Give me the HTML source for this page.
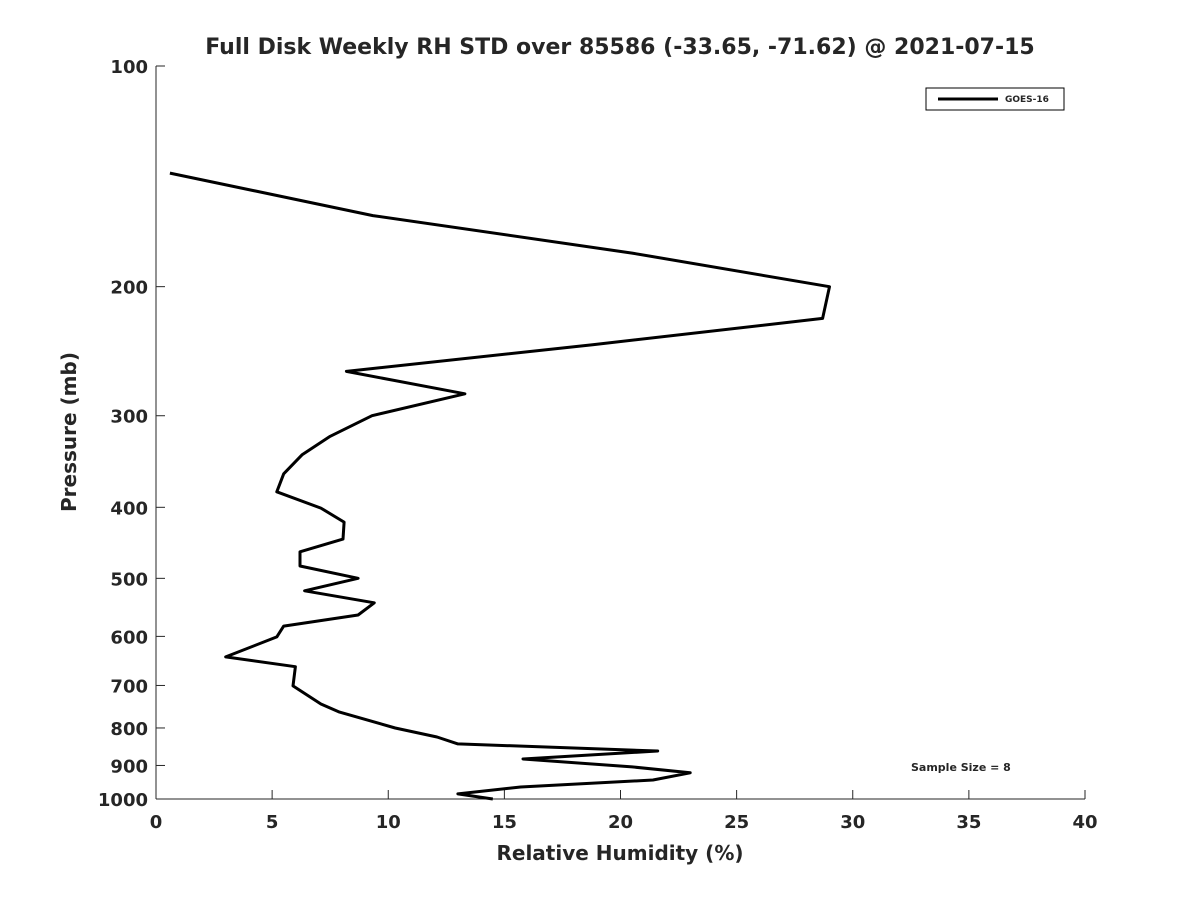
<!DOCTYPE html>
<html><head><meta charset="utf-8"><style>
body{margin:0;background:#fff;}
text{font-family:"DejaVu Sans","Liberation Sans",sans-serif;font-weight:bold;fill:#262626;}
</style></head><body>
<svg id="chart" width="1200" height="900" xmlns="http://www.w3.org/2000/svg">
<rect width="1200" height="900" fill="#fff"/>
<text x="620" y="54" font-size="22" text-anchor="middle" fill="#000">Full Disk Weekly RH STD over 85586 (-33.65, -71.62) @ 2021-07-15</text>
<g id="axes"></g>
<path id="line" fill="none" stroke="#000" stroke-width="3" stroke-linejoin="round"/>
<g>
<rect x="926" y="88" width="138" height="22" fill="#fff" stroke="#000" stroke-width="1"/>
<line x1="938" y1="99" x2="998" y2="99" stroke="#000" stroke-width="3"/>
<text x="1005" y="102" font-size="9" fill="#000">GOES-16</text>
</g>
<text x="911" y="771" font-size="11" fill="#000">Sample Size = 8</text>
<text x="620" y="860" font-size="20" text-anchor="middle">Relative Humidity (%)</text>
<text transform="translate(76,432) rotate(-90)" font-size="20" text-anchor="middle">Pressure (mb)</text>
</svg>
<script>
const pressure=[140,160,180,200,221,240,261,280,300,320,339,360,381,401,419,442,460,481,500,520,540,561,581,601,640,660,701,742,761,800,823,841,860,882,904,921,942,963,984,1000];
const rh=[0.6,9.34,20.5,29.0,28.7,18.8,8.2,13.3,9.3,7.5,6.3,5.5,5.2,7.1,8.1,8.05,6.2,6.2,8.7,6.4,9.4,8.7,5.5,5.2,3.0,6.0,5.9,7.1,7.9,10.3,12.1,13.0,21.6,15.8,20.5,23.0,21.4,15.7,13.0,14.5];
const xTicks=[0,5,10,15,20,25,30,35,40];
const yTicks=[100,200,300,400,500,600,700,800,900,1000];
const X0=156,X1=1085,Y0=66,Y1=799;
const xs=v=>X0+(v-0)/(40-0)*(X1-X0);
const ys=p=>Y0+(Math.log10(p)-2)*(Y1-Y0);
const NS="http://www.w3.org/2000/svg";
const g=document.getElementById('axes');
function el(t,a){const e=document.createElementNS(NS,t);for(const k in a)e.setAttribute(k,a[k]);g.appendChild(e);return e;}
const xa=el('line',{x1:X0,y1:Y1,x2:X1,y2:Y1,stroke:'#262626','stroke-width':1});


const ya=el('line',{x1:X0,y1:Y0,x2:X0,y2:Y1,stroke:'#262626','stroke-width':1});


xTicks.forEach(v=>{const x=xs(v);
el('line',{x1:x,y1:Y1,x2:x,y2:Y1-9,stroke:'#262626'});
const t=el('text',{x:x,y:Y1+29,'font-size':18,'text-anchor':'middle'});t.textContent=v;

});
yTicks.forEach(v=>{const y=ys(v);
el('line',{x1:X0,y1:y,x2:X0+9,y2:y,stroke:'#262626'});
const t=el('text',{x:X0-8,y:y+7,'font-size':18,'text-anchor':'end'});t.textContent=v;

});
document.getElementById('line').setAttribute('d',pressure.map((p,i)=>(i?'L':'M')+xs(rh[i]).toFixed(1)+','+ys(p).toFixed(1)).join(''));
</script>
</body></html>
